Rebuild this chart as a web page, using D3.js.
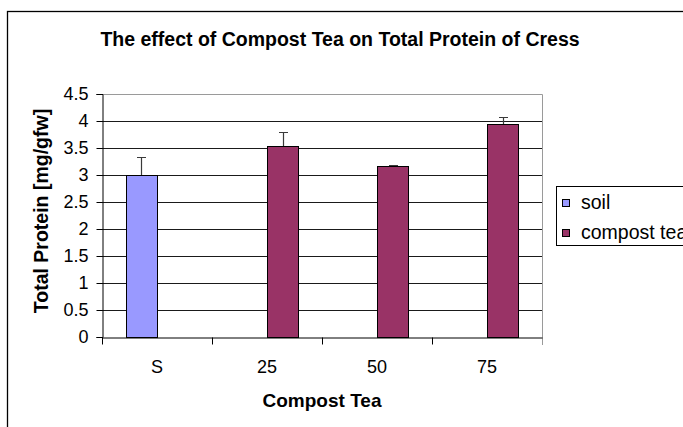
<!DOCTYPE html>
<html lang="en">
    <head>
        <meta charset="utf-8">
        <script src="https://d3js.org/d3.v7.min.js"></script>
        <style>
            body { margin: 0; background: #fff; }
            svg text { font-family: "Liberation Sans", Arial, sans-serif; fill: #000; }
        </style>
    </head>
    <body>
        <script>
            // data
            var categories = ["S", "25", "50", "75"];
            var seriesNames = ["soil", "compost tea"];
            var soilValues = [3.0, null, null, null];
            var soilErrors = [0.33, null, null, null];
            var compostValues = [null, 3.54, 3.16, 3.95];
            var compostErrors = [null, 0.25, 0.02, 0.12];
            var yTicks = [0, 0.5, 1, 1.5, 2, 2.5, 3, 3.5, 4, 4.5];
            var colors = ["#9999FF", "#993366"];

            var width = 683, height = 427;
            var plot = {left: 102, right: 542, top: 94, bottom: 337};

            var svg = d3.select("body").append("svg")
                        .attr("width", width)
                        .attr("height", height);

            // chart area frame, runs off the right and bottom edges
            svg.append("rect")
                .attr("x", 7.5).attr("y", 11.5)
                .attr("width", 720).attr("height", 460)
                .attr("fill", "none")
                .attr("stroke", "#000")
                .attr("stroke-width", 1.3);

            var x0 = d3.scaleBand()
                        .domain(categories)
                        .range([plot.left, plot.right])
                        .padding(0);

            var x1 = d3.scaleBand()
                        .domain(seriesNames)
                        .range([0, x0.bandwidth()])
                        .paddingInner(0)
                        .paddingOuter(0.75);

            var y = d3.scaleLinear()
                        .domain([0, 4.5])
                        .range([plot.bottom, plot.top]);

            // gridlines
            svg.append("g")
                .selectAll("line")
                .data(yTicks.filter(function(d){ return d > 0 && d < 4.5; }))
                .enter()
                .append("line")
                .attr("x1", plot.left).attr("x2", plot.right)
                .attr("y1", function(d){ return Math.round(y(d)) + 0.5; })
                .attr("y2", function(d){ return Math.round(y(d)) + 0.5; })
                .attr("stroke", "#1a1a1a");

            // plot border top and right (grey)
            svg.append("path")
                .attr("d", "M" + plot.left + "," + (Math.round(y(4.5)) + 0.5) +
                           "H" + (plot.right + 0.5) + "V" + (Math.round(y(0)) + 8))
                .attr("fill", "none")
                .attr("stroke", "#9a9a9a");

            // bars
            var rows = categories.map(function(c, i){
                return [
                    {cat: c, s: 0, v: soilValues[i], e: soilErrors[i]},
                    {cat: c, s: 1, v: compostValues[i], e: compostErrors[i]}
                ];
            });

            var groups = svg.append("g")
                            .selectAll("g")
                            .data(rows)
                            .enter()
                            .append("g")
                            .attr("transform", function(d, i){ return "translate(" + x0(categories[i]) + ",0)"; });

            var bars = groups.selectAll("g")
                            .data(function(d){ return d.filter(function(b){ return b.v != null; }); })
                            .enter()
                            .append("g");

            bars.append("rect")
                .attr("x", function(d){ return Math.round(x1(seriesNames[d.s])) + 0.5; })
                .attr("y", function(d){ return Math.round(y(d.v)) + 0.5; })
                .attr("width", function(){ return Math.round(x1.bandwidth()); })
                .attr("height", function(d){ return Math.round(y(0)) - Math.round(y(d.v)); })
                .attr("fill", function(d){ return colors[d.s]; })
                .attr("stroke", "#000");

            // error bars (plus only)
            bars.append("path")
                .attr("d", function(d){
                    var cx = Math.round(x1(seriesNames[d.s]) + x1.bandwidth() / 2) + 0.5;
                    var top = Math.round(y(d.v + d.e)) + 0.5;
                    return "M" + cx + "," + Math.round(y(d.v)) + "V" + top +
                           "M" + (cx - 4.5) + "," + top + "H" + (cx + 4.5);
                })
                .attr("fill", "none")
                .attr("stroke", "#3a3a3a")
                .attr("stroke-width", 1.2);

            // y axis
            var yAxis = svg.append("g")
                            .attr("transform", "translate(" + (plot.left + 0.5) + ",0)")
                            .call(d3.axisLeft(y)
                                    .tickValues(yTicks)
                                    .tickSize(6)
                                    .tickPadding(8)
                                    .tickFormat(function(d){ return String(d); }));
            yAxis.select(".domain").attr("stroke", "#000");
            yAxis.selectAll(".tick line").attr("stroke", "#000");
            yAxis.selectAll(".tick text")
                .attr("font-size", 18)
                .attr("font-family", "Liberation Sans, Arial, sans-serif");

            // x axis: labels at category centres, ticks at band boundaries
            var xAxis = svg.append("g")
                            .attr("transform", "translate(0," + (Math.round(y(0)) + 0.5) + ")")
                            .call(d3.axisBottom(x0).tickSize(0).tickPadding(23));
            xAxis.select(".domain").attr("stroke", "#000");
            xAxis.selectAll(".tick text")
                .attr("font-size", 18)
                .attr("font-family", "Liberation Sans, Arial, sans-serif");

            xAxis.selectAll("line.boundary")
                .data(categories)
                .enter()
                .append("line")
                .attr("class", "boundary")
                .attr("x1", function(d){ return Math.round(x0(d)) + 0.5; })
                .attr("x2", function(d){ return Math.round(x0(d)) + 0.5; })
                .attr("y1", 0).attr("y2", 7)
                .attr("stroke", "#000");

            // titles
            svg.append("text")
                .attr("x", 340).attr("y", 46)
                .attr("text-anchor", "middle")
                .attr("font-size", 19.5)
                .attr("font-weight", "bold")
                .text("The effect of Compost Tea on Total Protein of Cress");

            svg.append("text")
                .attr("x", (plot.left + plot.right) / 2).attr("y", 407)
                .attr("text-anchor", "middle")
                .attr("font-size", 19)
                .attr("font-weight", "bold")
                .text("Compost Tea");

            svg.append("text")
                .attr("transform", "translate(48," + 211 + ") rotate(-90)")
                .attr("text-anchor", "middle")
                .attr("font-size", 19.5)
                .attr("font-weight", "bold")
                .text("Total Protein [mg/gfw]");

            // legend
            var legend = svg.append("g").attr("transform", "translate(556,186)");
            legend.append("rect")
                .attr("x", 0.5).attr("y", 0.5)
                .attr("width", 200).attr("height", 59)
                .attr("fill", "#fff")
                .attr("stroke", "#000");

            var items = legend.selectAll("g.item")
                            .data(seriesNames)
                            .enter()
                            .append("g")
                            .attr("class", "item")
                            .attr("transform", function(d, i){ return "translate(0," + (i * 30) + ")"; });

            items.append("rect")
                .attr("x", 6.5).attr("y", 13.5)
                .attr("width", 7).attr("height", 7)
                .attr("fill", function(d, i){ return colors[i]; })
                .attr("stroke", "#000");

            items.append("text")
                .attr("x", 25).attr("y", 23)
                .attr("font-size", 19.5)
                .text(function(d){ return d; });
        </script>
    </body>
</html>
